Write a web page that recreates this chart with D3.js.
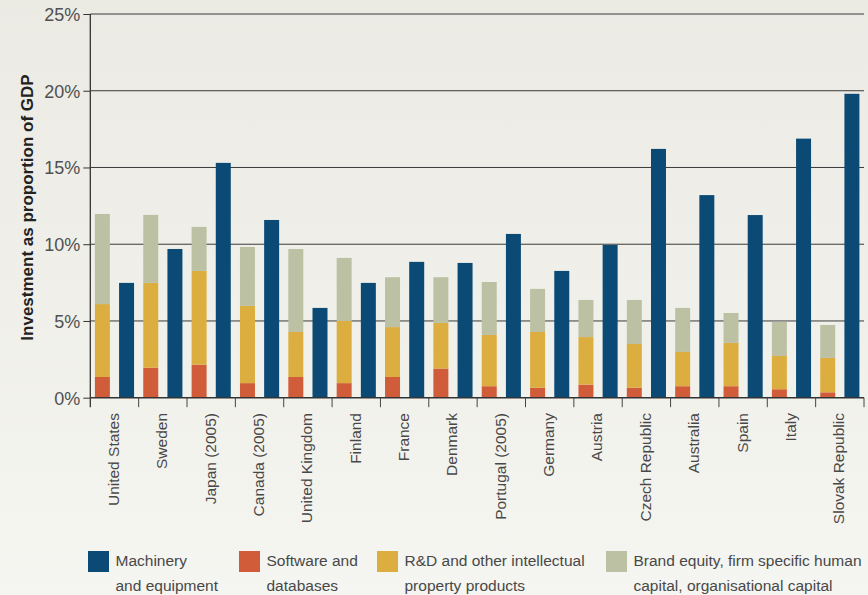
<!DOCTYPE html>
<html>
<head>
<meta charset="utf-8">
<script src="https://cdn.jsdelivr.net/npm/d3@7"></script>
<style>
  html, body { margin: 0; padding: 0; }
  body { width: 868px; height: 595px; overflow: hidden; }
  svg { display: block; }
</style>
</head>
<body>
<svg id="chart" width="868" height="595"></svg>
<script>
const countries = ["United States","Sweden","Japan (2005)","Canada (2005)","United Kingdom","Finland","France","Denmark","Portugal (2005)","Germany","Austria","Czech Republic","Australia","Spain","Italy","Slovak Republic"];
const software  = [1.35, 1.95, 2.15, 0.95, 1.35, 0.95, 1.35, 1.9, 0.75, 0.65, 0.85, 0.65, 0.75, 0.75, 0.55, 0.35];
const rdIP      = [4.75, 5.53, 6.11, 5.03, 2.93, 4.05, 3.25, 2.97, 3.34, 3.63, 3.1, 2.85, 2.23, 2.82, 2.17, 2.24];
const brand     = [5.87, 4.43, 2.87, 3.84, 5.41, 4.11, 3.25, 2.98, 3.45, 2.81, 2.42, 2.87, 2.87, 1.95, 2.22, 2.15];
const machinery = [7.48, 9.69, 15.3, 11.58, 5.85, 7.48, 8.85, 8.78, 10.67, 8.26, 9.95, 16.21, 13.2, 11.9, 16.88, 19.8];
const yTicks = [0, 5, 10, 15, 20, 25];
const legendLabels = [["Machinery","and equipment"],["Software and","databases"],["R&D and other intellectual","property products"],["Brand equity, firm specific human","capital, organisational capital"]];
const colors = { machinery: "#0b4a75", software: "#d15c3a", rd: "#dcad3f", brand: "#bcc1a4" };

const svg = d3.select("#chart");
const defs = svg.append("defs");
const grad = defs.append("linearGradient").attr("id","bg").attr("x1",0).attr("y1",0).attr("x2",0).attr("y2",1);
grad.append("stop").attr("offset","0%").attr("stop-color","#ebeae3");
grad.append("stop").attr("offset","100%").attr("stop-color","#f5f5f1");
svg.append("rect").attr("width",868).attr("height",595).attr("fill","url(#bg)");

const mLeft = 90.3, mRight = 864, mTop = 14, mBottom = 397.7;
const x = d3.scaleBand().domain(countries).range([mLeft, mRight]).padding(0);
const sub = d3.scaleBand().domain(["stack","mach"]).range([0, x.bandwidth()]).paddingInner(0.38).paddingOuter(0.19);
const y = d3.scaleLinear().domain([0, 25]).range([mBottom, mTop]);

const font = "'Liberation Sans', Arial, sans-serif";

// gridlines
svg.append("g").selectAll("line").data(yTicks.filter(d => d > 0)).join("line")
  .attr("x1", mLeft).attr("x2", mRight)
  .attr("y1", d => y(d)).attr("y2", d => y(d))
  .attr("stroke", "#3a3a3a").attr("stroke-width", 1);

// stacked data
const stackData = countries.map((c, i) => ({ c, software: software[i], rd: rdIP[i], brand: brand[i] }));
const stack = d3.stack().keys(["software","rd","brand"])(stackData);
const barsG = svg.append("g");
stack.forEach(layer => {
  barsG.append("g").attr("fill", colors[layer.key]).selectAll("rect").data(layer).join("rect")
    .attr("x", d => x(d.data.c) + sub("stack"))
    .attr("width", sub.bandwidth())
    .attr("y", d => y(d[1]))
    .attr("height", d => y(d[0]) - y(d[1]));
});
barsG.append("g").attr("fill", colors.machinery).selectAll("rect").data(countries).join("rect")
  .attr("x", d => x(d) + sub("mach"))
  .attr("width", sub.bandwidth())
  .attr("y", (d, i) => y(machinery[i]))
  .attr("height", (d, i) => y(0) - y(machinery[i]));

// y axis
const yAxis = d3.axisLeft(y).tickValues(yTicks).tickFormat(d => d + "%").tickSize(7).tickPadding(3);
const yg = svg.append("g").attr("transform", `translate(${mLeft},0)`).call(yAxis);
yg.select(".domain").remove();
yg.selectAll(".tick line").attr("stroke", "#333");
yg.selectAll(".tick text").attr("font-family", font).attr("font-size", 18).attr("fill", "#505050").attr("dy", "0.36em");
svg.append("line").attr("x1", mLeft).attr("x2", mLeft).attr("y1", mTop).attr("y2", mBottom + 9.5)
  .attr("stroke", "#333").attr("stroke-width", 1.3);

// x axis baseline and ticks
svg.append("line").attr("x1", mLeft).attr("x2", mRight).attr("y1", mBottom).attr("y2", mBottom)
  .attr("stroke", "#333").attr("stroke-width", 1.6);
const tickXs = countries.map(c => x(c) + x.bandwidth());
svg.append("g").selectAll("line").data(tickXs).join("line")
  .attr("x1", d => d).attr("x2", d => d).attr("y1", mBottom).attr("y2", mBottom + 9.5)
  .attr("stroke", "#444").attr("stroke-width", 1);

// x labels
svg.append("g").selectAll("text").data(countries).join("text")
  .attr("transform", d => `translate(${x(d) + x.bandwidth()/2 - 1},413) rotate(-90)`)
  .attr("text-anchor", "end").attr("dy", "0.35em")
  .attr("font-family", font).attr("font-size", 15.5).attr("fill", "#484848")
  .text(d => d);

// y title
svg.append("text").attr("transform", `translate(27,${(75+340)/2}) rotate(-90)`)
  .attr("text-anchor", "middle").attr("dy", "0.35em")
  .attr("font-family", font).attr("font-weight", "bold").attr("font-size", 17).attr("fill", "#222")
  .text("Investment as proportion of GDP");

// legend
const legendX = [88, 239, 377, 606];
const legendColors = [colors.machinery, colors.software, colors.rd, colors.brand];
const lg = svg.append("g").selectAll("g").data(legendLabels).join("g")
  .attr("transform", (d, i) => `translate(${legendX[i]},551)`);
lg.append("rect").attr("width", 21).attr("height", 21).attr("fill", (d, i) => legendColors[i]);
lg.append("text").attr("x", 27.5).attr("y", 15).attr("font-family", font).attr("font-size", 15.5).attr("fill", "#484848")
  .selectAll("tspan").data(d => d).join("tspan")
  .attr("x", 27.5).attr("dy", (d, i) => i === 0 ? 0 : 25).text(d => d);
</script>
</body>
</html>
